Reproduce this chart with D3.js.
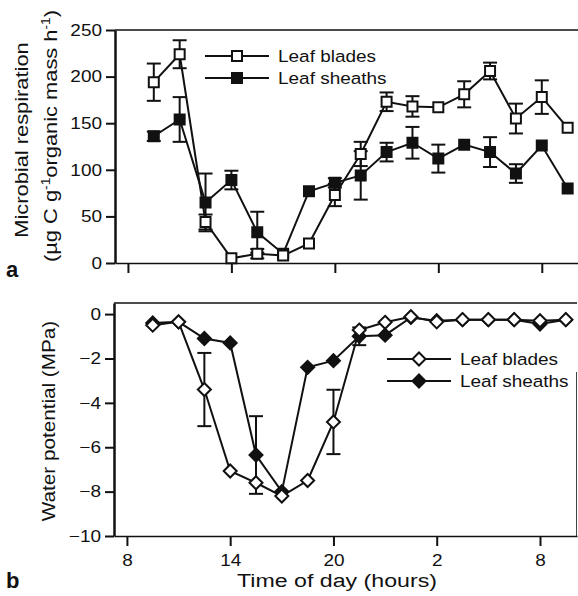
<!DOCTYPE html>
<html>
<head>
<meta charset="utf-8">
<script src="https://cdn.jsdelivr.net/npm/d3@7"></script>
<style>
  body { margin: 0; background: #fff; }
  svg { display: block; }
  text { font-family: "Liberation Sans", Arial, Helvetica, sans-serif; fill: #111; }
</style>
</head>
<body>
<svg width="578" height="596"></svg>
<script>
// sampling times (hours since midnight of day 1; 26 = 02:00 next day)
const hours = [9.5, 11, 12.5, 14, 15.5, 17, 18.5, 20, 21.5, 23, 24.5, 26, 27.5, 29, 30.5, 32, 33.5];
const xTicks = [8, 14, 20, 26, 32];

// panel a: microbial respiration
const respBlades   = [194, 224, 44, 5, 10, 8, 21, 73, 117, 173, 168, 167, 181, 206, 155, 178, 145];
const respBladesSE = [20, 15, 8, 0, 5, 0, 0, 12, 13, 10, 11, 0, 14, 9, 16, 18, 0];
const respSheaths   = [136, 154, 65, 89, 33, 10, 77, 86, 94, 119, 129, 112, 127, 119, 96, 126, 80];
const respSheathsSE = [5, 24, 31, 10, 22, 0, 0, 5, 26, 10, 17, 15, 0, 16, 10, 0, 0];
const respTicks = [0, 50, 100, 150, 200, 250];

// panel b: water potential
const wpBlades   = [-0.5, -0.35, -3.4, -7.07, -7.6, -8.2, -7.5, -4.86, -0.72, -0.37, -0.12, -0.35, -0.25, -0.25, -0.25, -0.3, -0.25];
const wpBladesSE = [0, 0, 1.65, 0, 0, 0, 0, 1.45, 0, 0, 0, 0, 0, 0, 0, 0, 0];
const wpSheaths   = [-0.4, -0.35, -1.1, -1.3, -6.35, -8.0, -2.4, -2.1, -1.0, -0.95, -0.15, -0.3, -0.25, -0.25, -0.25, -0.45, -0.25];
const wpSheathsSE = [0, 0, 0, 0, 1.75, 0, 0, 0, 0.4, 0, 0, 0, 0, 0, 0, 0, 0];
const wpTicks = [-10, -8, -6, -4, -2, 0];

const seriesNames = ["Leaf blades", "Leaf sheaths"];

const svg = d3.select("svg");
const K = 1.2; // the source lettering is horizontally stretched

function stretch(sel, k) {
    sel.each(function() {
        const t = d3.select(this);
        const x = +t.attr("x") || 0;
        t.attr("x", 0).attr("transform", `translate(${x},0) scale(${k},1)`);
    });
}

const xA = d3.scaleLinear().domain([7.25, 34.1]).range([115, 578]);
const yA = d3.scaleLinear().domain([0, 250]).range([263, 30]);
const xB = d3.scaleLinear().domain([7.25, 34.15]).range([114, 577]);
const yB = d3.scaleLinear().domain([-10, 0.5]).range([536, 303]);

function squareSym(size) { return d3.symbol().type(d3.symbolSquare).size(size * size)(); }
function diamondPath(s) { return `M0,${-s}L${s},0L0,${s}L${-s},0Z`; }

function drawSeries(g, x, y, vals, se, filled, shape, lineOnly) {
    const pts = hours.map((h, i) => ({ h, v: vals[i], e: se[i] }));
    if (lineOnly) {
        g.append("path")
            .datum(pts)
            .attr("fill", "none")
            .attr("stroke", "#111")
            .attr("stroke-width", 2)
            .attr("d", d3.line().x(d => x(d.h)).y(d => y(d.v)));
        const eb = g.append("g").selectAll("g")
            .data(pts.filter(d => d.e > 0))
            .join("g")
            .attr("stroke", "#111")
            .attr("stroke-width", 2);
        eb.append("line")
            .attr("x1", d => x(d.h)).attr("x2", d => x(d.h))
            .attr("y1", d => y(d.v - d.e)).attr("y2", d => y(d.v + d.e));
        eb.append("line")
            .attr("x1", d => x(d.h) - 7).attr("x2", d => x(d.h) + 7)
            .attr("y1", d => y(d.v + d.e)).attr("y2", d => y(d.v + d.e));
        eb.append("line")
            .attr("x1", d => x(d.h) - 7).attr("x2", d => x(d.h) + 7)
            .attr("y1", d => y(d.v - d.e)).attr("y2", d => y(d.v - d.e));
        return;
    }
    g.append("g").selectAll("path")
        .data(pts)
        .join("path")
        .attr("transform", d => `translate(${x(d.h)},${y(d.v)})`)
        .attr("d", shape === "square" ? squareSym(10) : diamondPath(6.5))
        .attr("fill", filled ? "#111" : "#fff")
        .attr("stroke", "#111")
        .attr("stroke-width", 2);
}

// ---------- panel a ----------
const gA = svg.append("g");

// top border
gA.append("line")
    .attr("x1", xA.range()[0]).attr("x2", xA.range()[1])
    .attr("y1", yA(250)).attr("y2", yA(250))
    .attr("stroke", "#111").attr("stroke-width", 1.5);

const axA = gA.append("g")
    .attr("transform", `translate(0,${yA(0)})`)
    .call(d3.axisBottom(xA).tickValues(xTicks).tickSize(10).tickSizeOuter(0).tickFormat(""));
const ayA = gA.append("g")
    .attr("transform", `translate(${xA.range()[0]},0)`)
    .call(d3.axisLeft(yA).tickValues(respTicks).tickSize(9).tickPadding(4).tickSizeOuter(0));

drawSeries(gA, xA, yA, respBlades, respBladesSE, false, "square", true);
drawSeries(gA, xA, yA, respSheaths, respSheathsSE, true, "square", true);
drawSeries(gA, xA, yA, respSheaths, respSheathsSE, true, "square", false);
drawSeries(gA, xA, yA, respBlades, respBladesSE, false, "square", false);

// ---------- panel b ----------
const gB = svg.append("g");

gB.append("line")
    .attr("x1", xB.range()[0]).attr("x2", xB.range()[1])
    .attr("y1", yB(0.5)).attr("y2", yB(0.5))
    .attr("stroke", "#111").attr("stroke-width", 1.5);
gB.append("line")
    .attr("x1", xB.range()[1] - 0.5).attr("x2", xB.range()[1] - 0.5)
    .attr("y1", 372).attr("y2", yB(-10))
    .attr("stroke", "#444").attr("stroke-width", 1);

const axB = gB.append("g")
    .attr("transform", `translate(0,${yB(-10)})`)
    .call(d3.axisBottom(xB).tickValues(xTicks).tickSize(10).tickPadding(8).tickSizeOuter(0)
        .tickFormat(d => d % 24));
const ayB = gB.append("g")
    .attr("transform", `translate(${xB.range()[0]},0)`)
    .call(d3.axisLeft(yB).tickValues(wpTicks).tickSize(9).tickPadding(4).tickSizeOuter(0));

drawSeries(gB, xB, yB, wpBlades, wpBladesSE, false, "diamond", true);
drawSeries(gB, xB, yB, wpSheaths, wpSheathsSE, true, "diamond", true);
drawSeries(gB, xB, yB, wpSheaths, wpSheathsSE, true, "diamond", false);
drawSeries(gB, xB, yB, wpBlades, wpBladesSE, false, "diamond", false);

// axis styling
[axA, ayA, axB, ayB].forEach(a => {
    a.selectAll(".domain").attr("stroke", "#111").attr("stroke-width", 1.6);
    a.selectAll(".tick line").attr("stroke", "#111").attr("stroke-width", 2);
    a.selectAll("text").attr("font-size", 16.5).attr("fill", "#111")
        .style("font-family", '"Liberation Sans", Arial, sans-serif');
});
[ayA, ayB].forEach(a => a.selectAll(".domain").attr("stroke-width", 2.5));
stretch(ayA.selectAll("text"), 1.15);
stretch(ayB.selectAll("text"), 1.15);
axB.selectAll(".tick text").attr("transform", "scale(1.15,1)");

// ---------- legends ----------
function legend(g, x0, rowsY, shape) {
    seriesNames.forEach((name, i) => {
        const y = rowsY[i];
        g.append("line")
            .attr("x1", x0).attr("x2", x0 + 64)
            .attr("y1", y).attr("y2", y)
            .attr("stroke", "#111").attr("stroke-width", 2);
        g.append("path")
            .attr("transform", `translate(${x0 + 32},${y})`)
            .attr("d", shape === "square" ? squareSym(10) : diamondPath(6.5))
            .attr("fill", i === 0 ? "#fff" : "#111")
            .attr("stroke", "#111").attr("stroke-width", 2);
        g.append("text")
            .attr("transform", `translate(${x0 + 73},${y + 6}) scale(1.15,1)`)
            .attr("font-size", 16.5)
            .text(name);
    });
}
legend(gA, 205, [56, 78], "square");
legend(gB, 387, [359, 381], "diamond");

// ---------- axis titles ----------
svg.append("text")
    .attr("transform", `translate(28,140) rotate(-90) scale(1.15,1)`)
    .attr("text-anchor", "middle")
    .attr("font-size", 19)
    .text("Microbial respiration");

const t2 = svg.append("text")
    .attr("transform", `translate(57,136) rotate(-90) scale(1.15,1)`)
    .attr("text-anchor", "middle")
    .attr("font-size", 19);
t2.append("tspan").text("(µg C g");
t2.append("tspan").attr("font-size", 12).attr("dy", -7).text("-1");
t2.append("tspan").attr("dy", 7).text("organic mass h");
t2.append("tspan").attr("font-size", 12).attr("dy", -7).text("-1");
t2.append("tspan").attr("dy", 7).text(")");

svg.append("text")
    .attr("transform", `translate(55,421) rotate(-90) scale(1.15,1)`)
    .attr("text-anchor", "middle")
    .attr("font-size", 18)
    .text("Water potential (MPa)");

svg.append("text")
    .attr("transform", `translate(337,587) scale(1.22,1)`)
    .attr("text-anchor", "middle")
    .attr("font-size", 19)
    .text("Time of day (hours)");

// panel letters
svg.append("text").attr("x", 6).attr("y", 277)
    .attr("font-size", 22).attr("font-weight", "bold").text("a");
svg.append("text").attr("x", 6).attr("y", 588)
    .attr("font-size", 22).attr("font-weight", "bold").text("b");
</script>
</body>
</html>
